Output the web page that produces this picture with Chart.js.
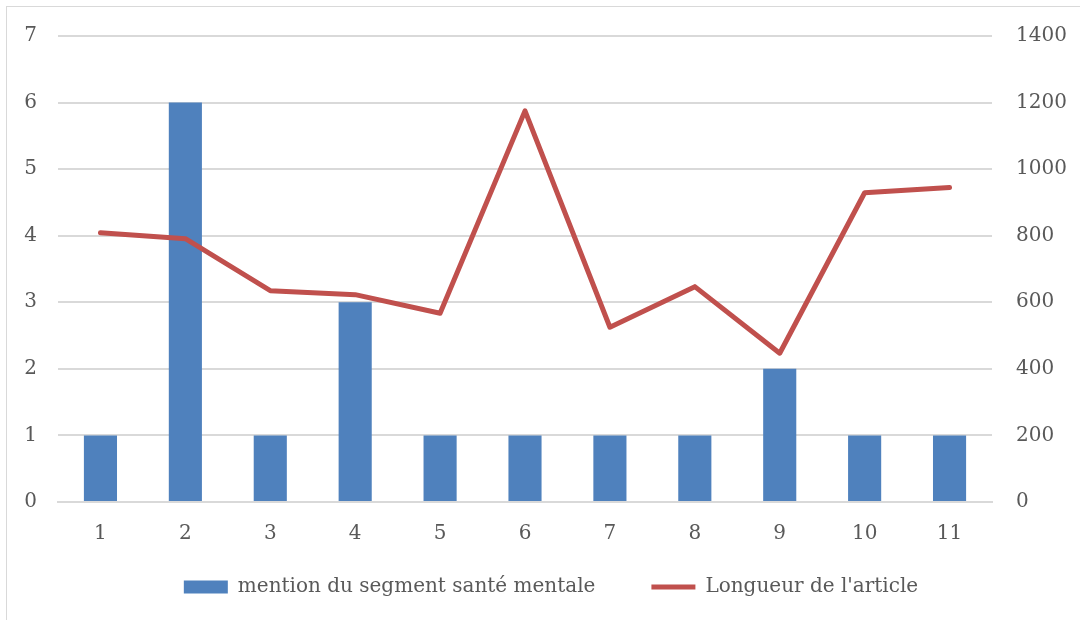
<!DOCTYPE html>
<html>
<head>
<meta charset="utf-8">
<script src="https://cdn.jsdelivr.net/npm/chart.js@4/dist/chart.umd.min.js"></script>
<style>
html,body{margin:0;padding:0;background:#fff;}
#wrap{width:1080px;height:620px;position:relative;}
</style>
</head>
<body>
<div id="wrap"><canvas id="c" width="1080" height="620"></canvas></div>
<script>
const categories = ['1','2','3','4','5','6','7','8','9','10','11'];
const mentions = [1, 6, 1, 3, 1, 1, 1, 1, 2, 1, 1];
const longueur = [809, 791, 635, 623, 567, 1175, 525, 647, 447, 929, 945];
const barLabel = 'mention du segment santé mentale';
const lineLabel = "Longueur de l'article";

const FONT = '"DejaVu Serif", serif';
const TXT = '#595959';
const GRID = '#d9d9d9';

const frame = {
  id: 'frame',
  beforeDraw(chart) {
    const ctx = chart.ctx;
    ctx.save();
    ctx.fillStyle = '#fff';
    ctx.fillRect(0, 0, chart.width, chart.height);
    ctx.strokeStyle = '#d9d9d9';
    ctx.lineWidth = 1;
    ctx.strokeRect(6.5, 6.5, 1090, 630);
    ctx.restore();
  }
};

// move the legend row so that it sits where the reference has it
const legendShift = {
  id: 'legendShift',
  afterLayout(chart) {
    const lg = chart.legend;
    if (lg) {
      lg.top -= 41; lg.bottom -= 41;
      lg.left += 11; lg.right += 11;
    }
  }
};

new Chart(document.getElementById('c'), {
  data: {
    labels: categories,
    datasets: [
      {
        type: 'line',
        label: lineLabel,
        data: longueur,
        yAxisID: 'y1',
        borderColor: '#C0504D',
        backgroundColor: '#C0504D',
        borderWidth: 5,
        pointRadius: 0,
        pointStyle: 'line',
        borderCapStyle: 'round',
        borderJoinStyle: 'round',
        tension: 0,
        order: 0
      },
      {
        type: 'bar',
        label: barLabel,
        data: mentions,
        yAxisID: 'y',
        backgroundColor: '#4F81BD',
        borderWidth: 0,
        barPercentage: 0.39,
        categoryPercentage: 1,
        pointStyle: 'rect',
        order: 1
      }
    ]
  },
  options: {
    responsive: false,
    animation: false,
    layout: { padding: { top: 35, left: 0, right: 0, bottom: -28 } },
    plugins: {
      tooltip: { enabled: false },
      legend: {
        position: 'bottom',
        reverse: true,
        labels: {
          usePointStyle: true,
          pointStyleWidth: 44,
          boxHeight: 13,
          padding: 56,
          color: TXT,
          font: { family: FONT, size: 20 }
        }
      }
    },
    scales: {
      x: {
        grid: { display: false },
        border: { display: true, color: GRID, width: 2 },
        ticks: { color: TXT, font: { family: FONT, size: 20 }, padding: 12, maxRotation: 0 },
        afterFit(s) { s.height = 60; }
      },
      y: {
        position: 'left',
        min: 0, max: 7,
        ticks: { stepSize: 1, color: TXT, font: { family: FONT, size: 20 }, padding: 21 },
        grid: { color: GRID, lineWidth: 2, drawTicks: false },
        border: { display: false },
        afterFit(s) { s.width = 58; }
      },
      y1: {
        position: 'right',
        min: 0, max: 1400,
        ticks: { stepSize: 200, color: TXT, font: { family: FONT, size: 20 }, padding: 24,
                 callback: (v) => String(v) },
        grid: { display: false, drawTicks: false },
        border: { display: false },
        afterFit(s) { s.width = 88; }
      }
    }
  },
  plugins: [frame, legendShift]
});
</script>
</body>
</html>
